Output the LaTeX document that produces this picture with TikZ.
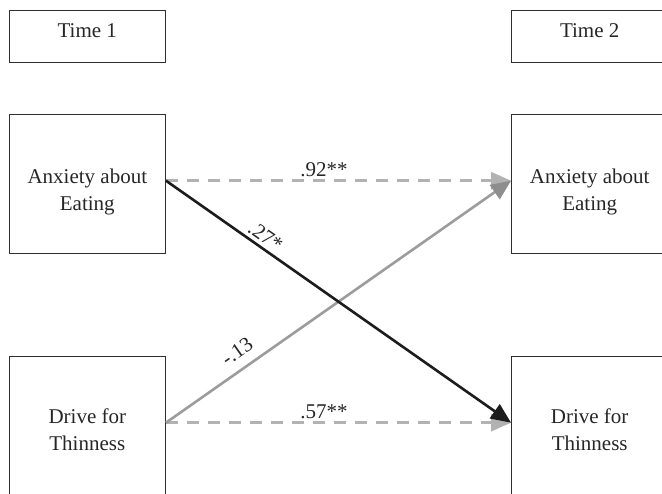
\documentclass[tikz,border=0pt]{standalone}
\usepackage{fontspec}
\setmainfont{Liberation Serif}
\usetikzlibrary{arrows.meta}
\definecolor{boxline}{HTML}{2E2E2E}
\definecolor{dashgray}{HTML}{B2B2B2}
\definecolor{midgray}{HTML}{9C9C9C}
\definecolor{tipgray}{HTML}{8E8E8E}
\definecolor{darkline}{HTML}{1C1C1C}
\newcommand{\boxtext}[2]{\raisebox{#1}[\height][\depth]{\begin{tabular}{@{}c@{}}#2\end{tabular}}}
\tikzset{
  varbox/.style={draw=boxline, line width=1.3pt, minimum width=156pt, minimum height=138.6pt, align=center, inner sep=0pt, font=\fontsize{21}{27}\selectfont, text=black!85},
  timebox/.style={varbox, minimum height=51.6pt},
  dashpath/.style={draw=dashgray, line width=2.8pt, dash pattern=on 12pt off 9pt, -{Triangle[length=20pt,width=17pt,fill=dashgray,color=dashgray]}},
  graypath/.style={draw=midgray, line width=2.6pt, -{Triangle[length=20pt,width=17pt,fill=tipgray,color=tipgray]}},
  blackpath/.style={draw=darkline, line width=2.6pt, -{Triangle[length=20pt,width=17pt]}},
  coef/.style={font=\fontsize{21}{25}\selectfont, text=black!85, inner sep=1pt}
}
\begin{document}
\begin{tikzpicture}[x=1pt,y=1pt]
\useasboundingbox (0,0) rectangle (662,494);
\clip (0,0) rectangle (662,494);
\node[timebox] (t1) at (87.3,457.5) {\boxtext{4pt}{Time 1}};
\node[timebox] (t2) at (589.7,457.5) {\boxtext{4pt}{Time 2}};
\node[varbox] (a1) at (87.3,310) {\boxtext{-8pt}{Anxiety about\\Eating}};
\node[varbox] (a2) at (589.7,310) {\boxtext{-8pt}{Anxiety about\\Eating}};
\node[varbox] (d1) at (87.3,68) {\boxtext{-6pt}{Drive for\\Thinness}};
\node[varbox] (d2) at (589.7,68) {\boxtext{-6pt}{Drive for\\Thinness}};
\coordinate (a1o) at ([yshift=3.3pt]a1.east);
\coordinate (a2i) at ([yshift=3.3pt]a2.west);
\coordinate (d1o) at ([yshift=3.3pt]d1.east);
\coordinate (d2i) at ([yshift=3.3pt]d2.west);
\draw[dashpath] (a1o) -- node[coef, pos=0.458, above=1pt] {.92**} (a2i);
\draw[dashpath] (d1o) -- node[coef, pos=0.458, above=1pt] {.57**} (d2i);
\draw[graypath] (d1o) -- node[coef, pos=0.235, sloped, above=8pt] {-.13} (a2i);
\draw[blackpath] (a1o) -- node[coef, pos=0.27, sloped, above=2pt] {.27*} (d2i);
\end{tikzpicture}
\end{document}
